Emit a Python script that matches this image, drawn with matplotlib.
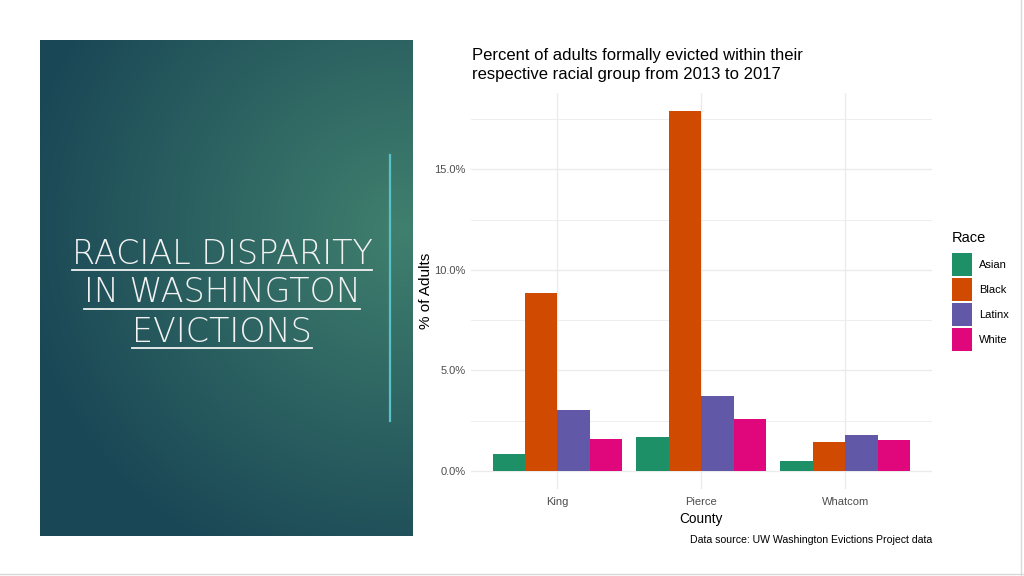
import numpy as np
import matplotlib
matplotlib.use('Agg')
import matplotlib.pyplot as plt
from matplotlib.ticker import MultipleLocator, FuncFormatter
from matplotlib.lines import Line2D

counties = ['King', 'Pierce', 'Whatcom']
races = ['Asian', 'Black', 'Latinx', 'White']
asian = [0.87, 1.70, 0.52]
black = [8.83, 17.90, 1.43]
latinx = [3.01, 3.74, 1.77]
white = [1.60, 2.61, 1.53]
race_colors = ['#1E9068', '#D04A02', '#6159A8', '#E0077D']

slide_title = ['RACIAL DISPARITY', 'IN WASHINGTON', 'EVICTIONS']

W, H = 1024, 576
plt.rcParams['font.family'] = ['Liberation Sans', 'DejaVu Sans']

fig = plt.figure(figsize=(W / 100, H / 100), dpi=100)
fig.patch.set_facecolor('white')


def fx(px):
    return px / W


def fy(py):
    return 1 - py / H


# left slide panel, radial teal gradient
bg = fig.add_axes([fx(40), fy(536), fx(373), 496 / H])
yy, xx = np.mgrid[0:1:300j, 0:1:240j]
d = np.sqrt(((xx - 0.98) / 1.05) ** 2 + ((yy - 0.38) / 0.75) ** 2)
t = np.clip(d, 0, 1)[..., None]
light = np.array([0x40, 0x80, 0x6E]) / 255
dark = np.array([0x1A, 0x47, 0x56]) / 255
img = light * (1 - t) + dark * t
bg.imshow(img, aspect='auto', extent=[0, 1, 1, 0])
bg.set_axis_off()

# thin accent line
fig.add_artist(Line2D([fx(390), fx(390)], [fy(155), fy(421)], color='#5CC0C8', lw=1.6))

title_y = [254, 293, 332]
txts = []
for s, yv in zip(slide_title, title_y):
    tx = fig.text(fx(222), fy(yv), s, ha='center', va='center', color='#F2F2F2',
                  fontsize=24, family=['DejaVu Sans'], fontweight=200)
    txts.append(tx)

fig.canvas.draw()
r = fig.canvas.get_renderer()
for tx, yv in zip(txts, title_y):
    bb = tx.get_window_extent(renderer=r)
    fig.add_artist(Line2D([bb.x0 / W, bb.x1 / W], [fy(yv + 16), fy(yv + 16)],
                          color='#F2F2F2', lw=1.3))

# bar chart
ax = fig.add_axes([fx(471), fy(489), 460.5 / W, 396 / H])
x = np.arange(1, len(counties) + 1)
bw = 0.9 / len(races)
series = [asian, black, latinx, white]
for i, (name, vals, col) in enumerate(zip(races, series, race_colors)):
    ax.bar(x + (i - 1.5) * bw, vals, width=bw, color=col, label=name, zorder=3)

top = max(max(s) for s in series)
ax.set_xlim(0.4, len(counties) + 0.6)
ax.set_ylim(-0.05 * top, top * 1.05)
ax.set_xticks(x)
ax.set_xticklabels(counties)
ax.yaxis.set_major_locator(MultipleLocator(5))
ax.yaxis.set_minor_locator(MultipleLocator(2.5))
ax.yaxis.set_major_formatter(FuncFormatter(lambda v, p: f'{v:.1f}%'))
ax.grid(which='major', color='#EBEBEB', lw=1.0, zorder=0)
ax.grid(which='minor', axis='y', color='#EBEBEB', lw=0.6, zorder=0)
for sp in ax.spines.values():
    sp.set_visible(False)
ax.tick_params(which='both', length=0, labelsize=8, colors='#4D4D4D')
ax.tick_params(axis='x', pad=6)
ax.tick_params(axis='y', pad=4)
ax.set_xlabel('County', fontsize=9.8, labelpad=3)
ax.set_ylabel('% of Adults', fontsize=11, labelpad=1)

fig.text(fx(952), fy(238), 'Race', ha='left', va='center', fontsize=10.5)
ax.legend(loc='upper left', bbox_to_anchor=(fx(952), fy(253)),
          bbox_transform=fig.transFigure, frameon=False, fontsize=8,
          handlelength=1.8, handleheight=2.8, labelspacing=0.18,
          handletextpad=0.6, borderpad=0, borderaxespad=0)

fig.text(fx(472), fy(48), 'Percent of adults formally evicted within their\nrespective racial group from 2013 to 2017',
         ha='left', va='top', fontsize=12, linespacing=1.3)
fig.text(fx(932), fy(540), 'Data source: UW Washington Evictions Project data',
         ha='right', va='center', fontsize=7.6)

# slide frame edges
fig.add_artist(Line2D([fx(1021), fx(1021)], [0, 1], color='#D9D9D9', lw=1))
fig.add_artist(Line2D([0, 1], [fy(574), fy(574)], color='#D9D9D9', lw=1))

fig.savefig('out.png', dpi=100)
